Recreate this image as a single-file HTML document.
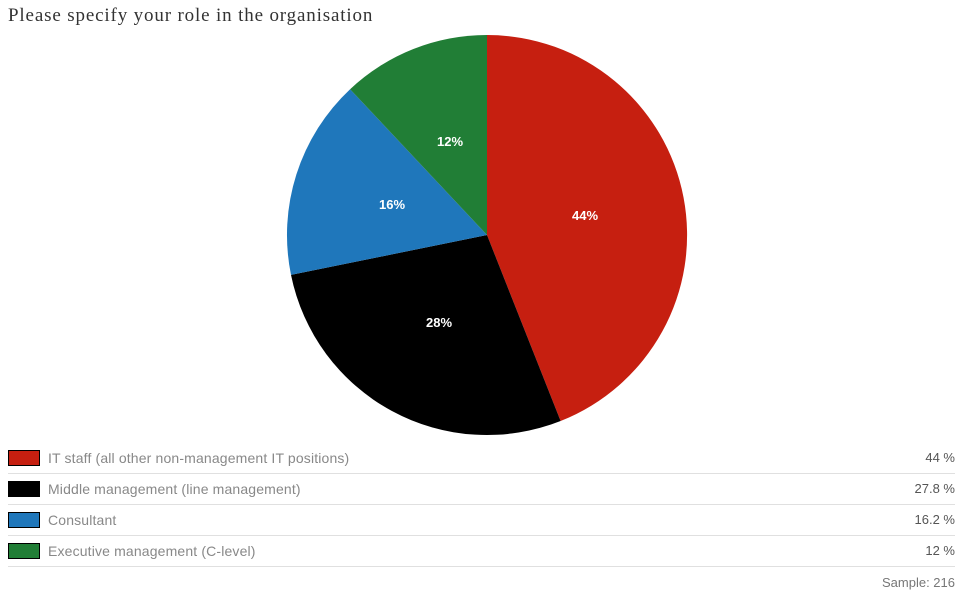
<!DOCTYPE html>
<html><head><style>
body{margin:0;width:963px;height:597px;background:#fff;position:relative;overflow:hidden;font-family:"Liberation Sans",sans-serif}
.t{position:absolute;left:8px;top:5px;font-family:"Liberation Serif",serif;font-size:19px;color:#333;letter-spacing:0.85px}
.row{position:absolute;left:8px;width:947px;height:31px;border-bottom:1px solid #e0e0e0}
.sw{position:absolute;left:0;top:8px;width:30px;height:14px;border:1px solid #000}
.lb{position:absolute;left:40px;top:8px;font-size:14px;color:#888;letter-spacing:0.15px}
.v{position:absolute;right:0;top:8px;font-size:13px;color:#555}
.s{position:absolute;right:8px;top:575px;font-size:13px;color:#777}
</style></head><body>
<div class="t">Please specify your role in the organisation</div>
<svg width="963" height="597" style="position:absolute;left:0;top:0">
<path d="M487,235 L487,35 A200,200 0 0 1 560.6,421 Z" fill="#c61f10"/>
<path d="M487,235 L560.6,421 A200,200 0 0 1 291,274.9 Z" fill="#000"/>
<path d="M487,235 L291,274.9 A200,200 0 0 1 350.1,89.2 Z" fill="#1f77bb"/>
<path d="M487,235 L350.1,89.2 A200,200 0 0 1 487,35 Z" fill="#217e36"/>
<g fill="#fff" font-size="13" font-weight="bold" text-anchor="middle" font-family="Liberation Sans,sans-serif">
<text x="585" y="220">44%</text>
<text x="439" y="327">28%</text>
<text x="392" y="209">16%</text>
<text x="450" y="146">12%</text>
</g></svg>
<div class="row" style="top:442px"><div class="sw" style="background:#c61f10"></div><div class="lb">IT staff (all other non-management IT positions)</div><div class="v">44 %</div></div>
<div class="row" style="top:473px"><div class="sw" style="background:#000"></div><div class="lb">Middle management (line management)</div><div class="v">27.8 %</div></div>
<div class="row" style="top:504px"><div class="sw" style="background:#1f77bb"></div><div class="lb">Consultant</div><div class="v">16.2 %</div></div>
<div class="row" style="top:535px"><div class="sw" style="background:#217e36"></div><div class="lb">Executive management (C-level)</div><div class="v">12 %</div></div>
<div class="s">Sample: 216</div>
</body></html>
